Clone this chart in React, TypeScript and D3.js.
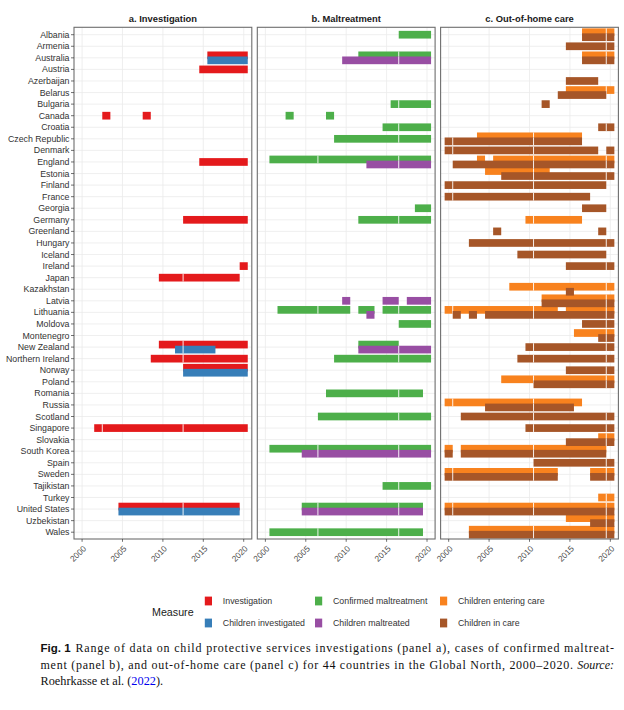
import * as d3 from 'd3';
import React from 'react';

// rows, top to bottom
const countries = [
    'Albania', 'Armenia', 'Australia', 'Austria', 'Azerbaijan', 'Belarus', 'Bulgaria', 'Canada',
    'Croatia', 'Czech Republic', 'Denmark', 'England', 'Estonia', 'Finland', 'France', 'Georgia',
    'Germany', 'Greenland', 'Hungary', 'Iceland', 'Ireland', 'Japan', 'Kazakhstan', 'Latvia',
    'Lithuania', 'Moldova', 'Montenegro', 'New Zealand', 'Northern Ireland', 'Norway', 'Poland',
    'Romania', 'Russia', 'Scotland', 'Singapore', 'Slovakia', 'South Korea', 'Spain', 'Sweden',
    'Tajikistan', 'Turkey', 'United States', 'Uzbekistan', 'Wales',
];

// [country, first year, last year]
type Run = [string, number, number];

const investigation: Run[] = [
    ['Australia', 2016, 2020], ['Austria', 2015, 2020], ['Canada', 2003, 2003], ['Canada', 2008, 2008],
    ['England', 2015, 2020], ['Germany', 2013, 2020], ['Ireland', 2020, 2020], ['Japan', 2010, 2019],
    ['New Zealand', 2010, 2020], ['Northern Ireland', 2009, 2020], ['Norway', 2013, 2020],
    ['Singapore', 2002, 2020], ['United States', 2005, 2019],
];
const childrenInvestigated: Run[] = [
    ['Australia', 2016, 2020], ['New Zealand', 2012, 2016], ['Norway', 2013, 2020], ['United States', 2005, 2019],
];
const confirmedMaltreatment: Run[] = [
    ['Albania', 2017, 2020], ['Australia', 2012, 2020], ['Bulgaria', 2016, 2020], ['Canada', 2003, 2003],
    ['Canada', 2008, 2008], ['Croatia', 2015, 2020], ['Czech Republic', 2009, 2020], ['England', 2001, 2020],
    ['Georgia', 2019, 2020], ['Germany', 2012, 2020], ['Lithuania', 2002, 2010], ['Lithuania', 2012, 2013],
    ['Lithuania', 2015, 2020], ['Moldova', 2017, 2020], ['New Zealand', 2012, 2016],
    ['Northern Ireland', 2009, 2020], ['Romania', 2008, 2019], ['Scotland', 2007, 2020],
    ['South Korea', 2001, 2020], ['Tajikistan', 2015, 2020], ['United States', 2005, 2019], ['Wales', 2001, 2019],
];
const childrenMaltreated: Run[] = [
    ['Australia', 2010, 2020], ['England', 2013, 2020], ['Latvia', 2010, 2010], ['Latvia', 2015, 2016],
    ['Latvia', 2018, 2020], ['Lithuania', 2013, 2013], ['New Zealand', 2012, 2020], ['South Korea', 2005, 2020],
    ['United States', 2005, 2019],
];
const childrenEntering: Run[] = [
    ['Albania', 2017, 2020], ['Australia', 2017, 2020], ['Belarus', 2015, 2020], ['Czech Republic', 2004, 2016],
    ['England', 2004, 2004], ['England', 2006, 2020], ['Estonia', 2005, 2012], ['Germany', 2010, 2016],
    ['Kazakhstan', 2008, 2020], ['Latvia', 2012, 2020], ['Lithuania', 2000, 2013], ['Lithuania', 2015, 2020],
    ['Montenegro', 2016, 2020], ['Poland', 2007, 2020], ['Russia', 2000, 2016], ['Slovakia', 2019, 2020],
    ['South Korea', 2000, 2000], ['South Korea', 2002, 2019], ['Sweden', 2000, 2013], ['Sweden', 2018, 2020],
    ['Turkey', 2019, 2020], ['United States', 2000, 2020], ['Uzbekistan', 2015, 2020], ['Wales', 2003, 2020],
];
const childrenInCare: Run[] = [
    ['Albania', 2017, 2020], ['Armenia', 2015, 2020], ['Australia', 2017, 2020], ['Azerbaijan', 2015, 2018],
    ['Belarus', 2014, 2019], ['Bulgaria', 2012, 2012], ['Croatia', 2019, 2020], ['Czech Republic', 2000, 2016],
    ['Denmark', 2000, 2018], ['Denmark', 2020, 2020], ['England', 2001, 2020], ['Estonia', 2007, 2020],
    ['Finland', 2000, 2019], ['France', 2000, 2017], ['Georgia', 2017, 2019], ['Greenland', 2006, 2006],
    ['Greenland', 2019, 2019], ['Hungary', 2003, 2020], ['Iceland', 2009, 2019], ['Ireland', 2015, 2020],
    ['Kazakhstan', 2015, 2015], ['Latvia', 2012, 2020], ['Lithuania', 2001, 2001], ['Lithuania', 2003, 2003],
    ['Lithuania', 2005, 2020], ['Moldova', 2017, 2020], ['Montenegro', 2019, 2020], ['New Zealand', 2010, 2020],
    ['Northern Ireland', 2009, 2020], ['Norway', 2015, 2020], ['Poland', 2011, 2020], ['Russia', 2005, 2015],
    ['Scotland', 2002, 2020], ['Singapore', 2010, 2020], ['Slovakia', 2015, 2020], ['South Korea', 2000, 2000],
    ['South Korea', 2002, 2019], ['Spain', 2011, 2020], ['Sweden', 2000, 2013], ['Sweden', 2018, 2020],
    ['United States', 2000, 2020], ['Uzbekistan', 2018, 2020], ['Wales', 2003, 2020],
];

const panels = [
    {
        title: 'a. Investigation', seams: [2002.5, 2012.5],
        series: [
            {label: 'Investigation', color: '#E41A1C', runs: investigation},
            {label: 'Children investigated', color: '#377EB8', runs: childrenInvestigated},
        ],
    },
    {
        title: 'b. Maltreatment', seams: [2006.5, 2016.5],
        series: [
            {label: 'Confirmed maltreatment', color: '#4DAF4A', runs: confirmedMaltreatment},
            {label: 'Children maltreated', color: '#984EA3', runs: childrenMaltreated},
        ],
    },
    {
        title: 'c. Out-of-home care', seams: [2000.5, 2010.5, 2019.5],
        series: [
            {label: 'Children entering care', color: '#F8821E', runs: childrenEntering},
            {label: 'Children in care', color: '#A65628', runs: childrenInCare},
        ],
    },
];

const FONT = '"Liberation Sans", Arial, sans-serif';
const SERIF = '"Liberation Serif", "Times New Roman", serif';
const PANEL_X = [74, 257.3, 440.6];
const PANEL_W = 177.8;
const TOP = 27.3;
const BOTTOM = 539;
const BAR_H = 7.7;
const DODGE = 2.5;

const y = d3.scalePoint<string>().domain(countries).range([34.7, 532.2]);

const Panel: React.FC<{ p: typeof panels[0]; x0: number; showY: boolean }> = ({p, x0, showY}) => {
    const x = d3.scaleLinear().domain([1999, 2021]).range([x0, x0 + PANEL_W]);
    const ticks = x.ticks(5);
    const both = new Set(countries.filter(c => p.series.every(s => s.runs.some(r => r[0] === c))));

    return (
        <g>
            <text x={x0 + PANEL_W / 2} y={22.3} textAnchor="middle" fontFamily={FONT} fontWeight="bold"
                  fontSize={9.4} fill="#1a1a1a">{p.title}</text>
            {countries.map(c => (
                <line key={c} x1={x0} x2={x0 + PANEL_W} y1={y(c)} y2={y(c)} stroke="#ebebeb" strokeWidth={0.8}/>
            ))}
            {ticks.map(t => (
                <line key={t} x1={x(t)} x2={x(t)} y1={TOP} y2={BOTTOM} stroke="#ebebeb" strokeWidth={0.8}/>
            ))}
            {p.series.map((s, si) => (
                <g key={s.label}>
                    {s.runs.map((r, ri) => {
                        const off = both.has(r[0]) ? (si === 0 ? -DODGE : DODGE) : 0;
                        const cy = (y(r[0]) as number) + off;
                        const xa = x(r[1] - 0.5), xb = x(r[2] + 0.5);
                        return (
                            <g key={ri}>
                                <rect x={xa} y={cy - BAR_H / 2} width={xb - xa} height={BAR_H} fill={s.color}/>
                                {p.seams.filter(v => v > r[1] - 0.5 && v < r[2] + 0.5).map(v => (
                                    <line key={v} x1={x(v)} x2={x(v)} y1={cy - BAR_H / 2} y2={cy + BAR_H / 2}
                                          stroke="#fff" strokeWidth={0.9}/>
                                ))}
                            </g>
                        );
                    })}
                </g>
            ))}
            <rect x={x0} y={TOP} width={PANEL_W} height={BOTTOM - TOP} fill="none" stroke="#6e6e6e" strokeWidth={1.1}/>
            {ticks.map(t => (
                <g key={t}>
                    <line x1={x(t)} x2={x(t)} y1={BOTTOM} y2={BOTTOM + 2.8} stroke="#333" strokeWidth={0.7}/>
                    <text transform={`translate(${x(t) + 0.5},${BOTTOM + 6})rotate(-45)`} dy="0.7em"
                          textAnchor="end" fontFamily={FONT} fontSize={8.4} fill="#4d4d4d">{t}</text>
                </g>
            ))}
            {showY && countries.map(c => (
                <g key={c}>
                    <line x1={x0 - 3} x2={x0} y1={y(c)} y2={y(c)} stroke="#333" strokeWidth={0.7}/>
                    <text x={x0 - 4.5} y={y(c)} dy="0.35em" textAnchor="end" fontFamily={FONT} fontSize={8.8}
                          fill="#333">{c}</text>
                </g>
            ))}
        </g>
    );
};

const LEGEND_X = [204.8, 315, 440];
const LEGEND_Y = [601, 623];

export default function App() {
    return (
        <svg width={624} height={710} style={{position: 'absolute', left: 0, top: 0, background: '#fff'}}>
            {panels.map((p, i) => <Panel key={p.title} p={p} x0={PANEL_X[i]} showY={i === 0}/>)}

            <text x={152} y={612} dy="0.35em" fontFamily={FONT} fontSize={10.7} fill="#1a1a1a">Measure</text>
            {panels.map((p, i) => p.series.map((s, j) => (
                <g key={s.label}>
                    <rect x={LEGEND_X[i]} y={LEGEND_Y[j] - 4.4} width={7.2} height={8.8} fill={s.color}/>
                    <text x={LEGEND_X[i] + 18} y={LEGEND_Y[j]} dy="0.35em" fontFamily={FONT} fontSize={8.8}
                          fill="#333">{s.label}</text>
                </g>
            )))}

            <text x={40.5} y={652} fontFamily={FONT} fontWeight="bold" fontSize={11.5} fill="#111">Fig. 1</text>
            <text x={75.5} y={652} fontFamily={SERIF} fontSize={12} fill="#111" textLength={538.5}
                  lengthAdjust="spacing">Range of data on child protective services investigations (panel a), cases of confirmed maltreat-</text>
            <text x={40.5} y={668.5} fontFamily={SERIF} fontSize={12} fill="#111" textLength={532.5}
                  lengthAdjust="spacing">ment (panel b), and out-of-home care (panel c) for 44 countries in the Global North, 2000–2020.</text>
            <text x={614} y={668.5} textAnchor="end" fontFamily={SERIF} fontStyle="italic" fontSize={12}
                  fill="#111">Source:</text>
            <text x={40.5} y={685} fontFamily={SERIF} fontSize={12.3} fill="#111">
                Roehrkasse et al. (<tspan fill="#0000ee">2022</tspan>).
            </text>
        </svg>
    );
}
